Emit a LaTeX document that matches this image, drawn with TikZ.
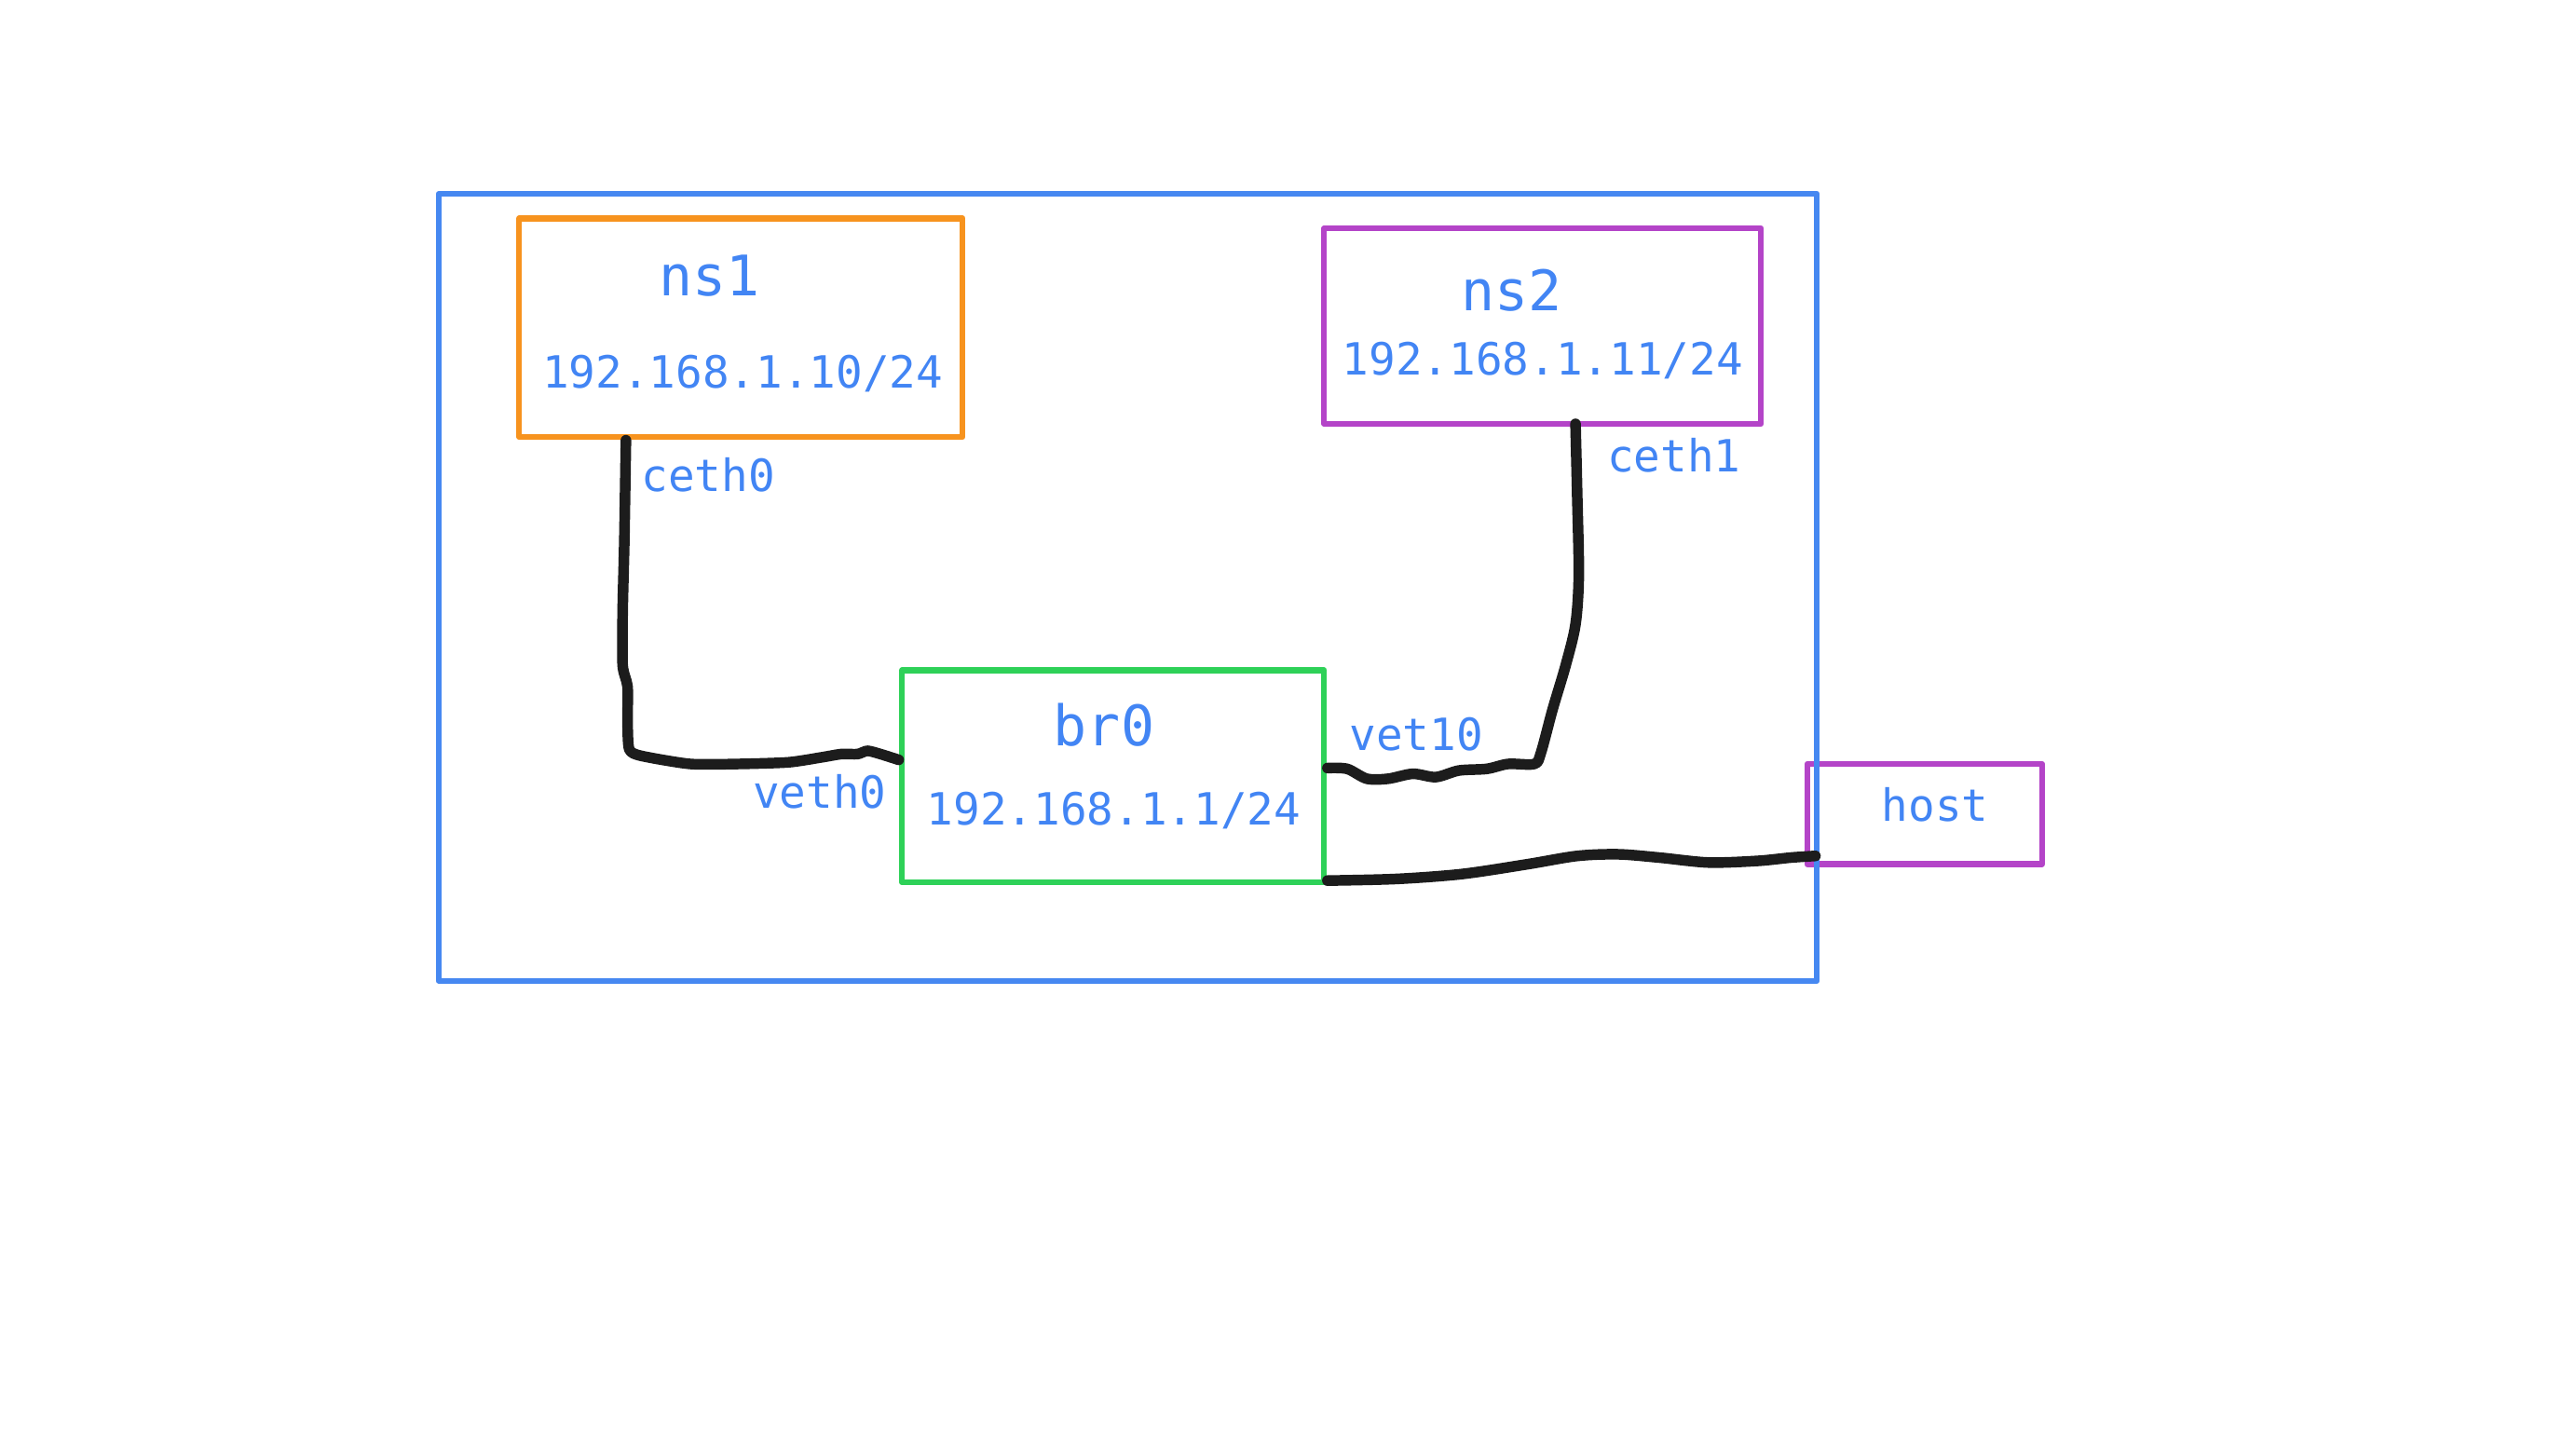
\documentclass[tikz,border=0pt]{standalone}
\usepackage{fontspec}
\setmonofont{DejaVu Sans Mono}
\usepackage{tikz}
\usetikzlibrary{calc}

\definecolor{hostblue}{HTML}{4688F1}
\definecolor{textblue}{HTML}{4285F4}
\definecolor{nsorange}{HTML}{F7931E}
\definecolor{nspurple}{HTML}{B444C8}
\definecolor{brgreen}{HTML}{2ED158}
\definecolor{wire}{HTML}{1C1C1C}

\begin{document}
\begin{tikzpicture}[x=1pt,y=-1pt,line join=round,line cap=round]
  \tikzstyle{box}=[draw,line width=3.5pt,inner sep=0pt,outer sep=0pt]
  \tikzstyle{title}=[text=textblue,font=\ttfamily\fontsize{34}{34}\selectfont,anchor=base]
  \tikzstyle{addr}=[text=textblue,font=\ttfamily\fontsize{27}{27}\selectfont,anchor=base]
  \tikzstyle{cable}=[draw=wire,line width=6.5pt]

  \useasboundingbox (0,0) rectangle (1568,871);

  \node[box,draw=nspurple,minimum width=143pt,minimum height=61pt] (host) at (1171.5,495.5) {};
  \node[box,draw=hostblue,minimum width=839pt,minimum height=479pt] (outer) at (686.5,357.5) {};
  \node[box,draw=nsorange,minimum width=270pt,minimum height=133pt] (ns1) at (451,199.5) {};
  \node[box,draw=nspurple,minimum width=266pt,minimum height=119pt] (ns2) at (939,198.5) {};
  \node[box,draw=brgreen,minimum width=257pt,minimum height=129pt] (br0) at (677.5,472.5) {};

  \node[title] (ns1name) at (432,180) {ns1};
  \node[addr]  (ns1ip)   at (452,236) {192.168.1.10/24};
  \node[addr]  (ceth0)   at (431,299) {ceth0};
  \node[title] (ns2name) at (920,189) {ns2};
  \node[addr]  (ns2ip)   at (939,228) {192.168.1.11/24};
  \node[addr]  (ceth1)   at (1019,287) {ceth1};
  \node[title] (br0name) at (672,454) {br0};
  \node[addr]  (br0ip)   at (678,502) {192.168.1.1/24};
  \node[addr]  (veth0)   at (499,492) {veth0};
  \node[addr]  (vet10)   at (862,457) {vet10};
  \node[addr]  (hostname) at (1178,500) {host};

  % cable ends
  \coordinate (c0) at ($(ns1.south west)+(65,2)$);
  \coordinate (v0) at ($(br0.west)+(-2,-10)$);
  \coordinate (c1) at ($(ns2.south west)+(153,0)$);
  \coordinate (v1) at ($(br0.east)+(2,-5)$);
  \coordinate (b0) at ($(br0.south east)+(2,-1)$);
  \coordinate (h0) at ($(host.south west)+(5,-5)$);

  \draw[cable] plot[smooth,tension=0.4] coordinates {(c0) (380,330) (379,372) (379,405) (382,418)
    (382,440) (383,456) (390,460) (420,465) (450,465) (480,464) (500,461) (512,459) (522,459)
    (528,457) (536,459) (v0)};
  \draw[cable] plot[smooth,tension=0.5] coordinates {(c1) (960,300) (961,350) (959,380) (953,405)
    (945,432) (938,458) (934,465) (918,465) (905,468) (888,469) (874,473) (860,471)
    (845,474) (832,474) (820,468) (v1)};
  \draw[cable] plot[smooth,tension=0.5] coordinates {(b0) (850,535) (890,532) (930,526) (960,521)
    (985,520) (1010,522) (1040,525) (1070,524) (1090,522) (h0)};
\end{tikzpicture}
\end{document}
